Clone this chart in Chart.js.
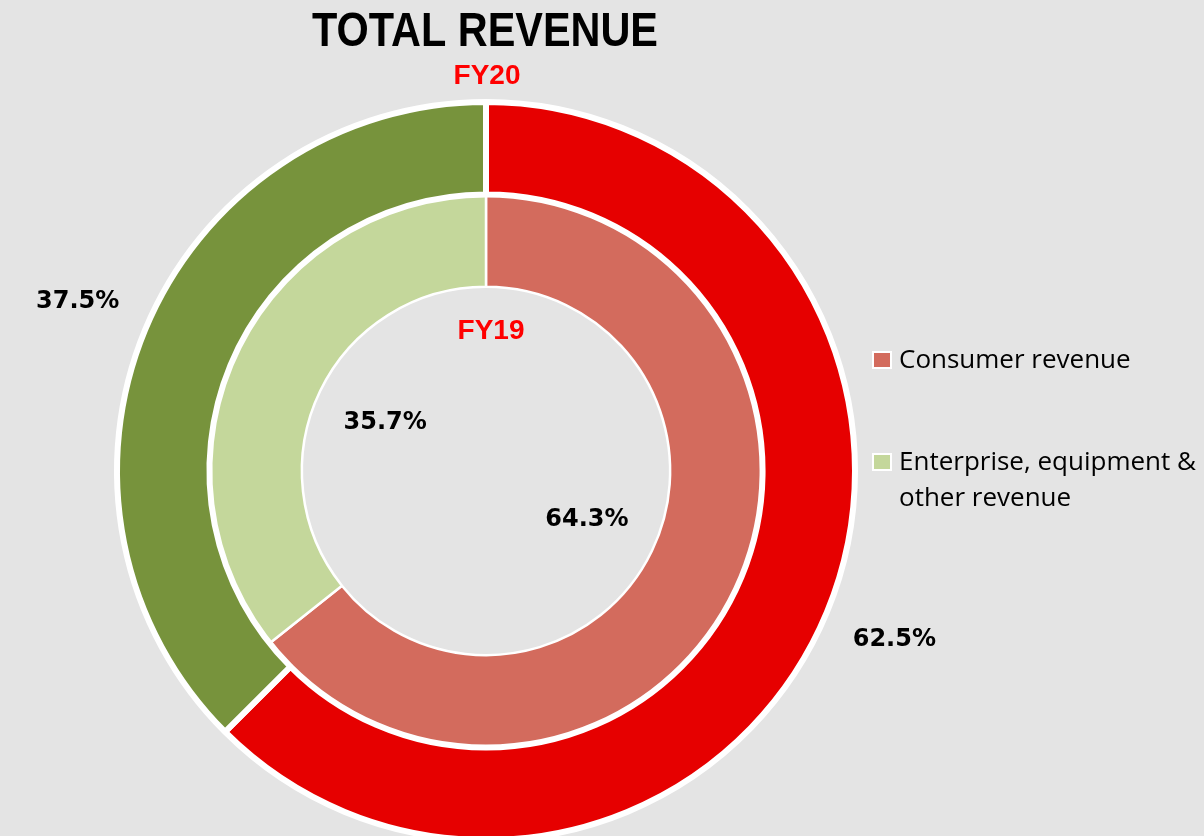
<!DOCTYPE html>
<html>
<head>
<meta charset="utf-8">
<title>Total revenue</title>
<script src="https://cdn.jsdelivr.net/npm/chart.js@4.4.1/dist/chart.umd.min.js"></script>
<style>
  html, body { margin: 0; padding: 0; background: #e4e4e4; overflow: hidden; }
  #wrap { position: relative; width: 1204px; height: 836px; }
</style>
</head>
<body>
<div id="wrap"><canvas id="chart" width="1204" height="836"></canvas></div>
<script>
// Chart data (outer ring = FY20, inner ring = FY19)
const categories = ['Consumer revenue', 'Enterprise, equipment & other revenue'];
const legendLines = [['Consumer revenue'], ['Enterprise, equipment &', 'other revenue']];
const yearLabels = ['FY20', 'FY19'];
const fy20Values = [62.5, 37.5];
const fy19Values = [64.3, 35.7];

const chartTitle = 'TOTAL REVENUE';

// colours per ring
const fy20Colors = ['#e60000', '#77933c'];
const fy19Colors = ['#d36b5d', '#c4d79b'];

// Draws title, ring captions, value labels and the legend
const annotations = {
  id: 'annotations',
  afterDatasetsDraw(chart) {
    const ctx = chart.ctx;
    const area = chart.chartArea;
    const cx = (area.left + area.right) / 2;
    const cy = (area.top + area.bottom) / 2;

    ctx.save();
    ctx.textAlign = 'center';
    ctx.textBaseline = 'middle';

    // title
    ctx.fillStyle = '#000';
    ctx.font = 'bold 48px "Liberation Sans", Arial, sans-serif';
    ctx.fillText(chartTitle, 485, 33, 346);

    // ring captions
    ctx.fillStyle = '#ff0000';
    ctx.font = 'bold 28px "Liberation Sans", Arial, sans-serif';
    ctx.fillText(yearLabels[0], 487, 76);
    ctx.fillText(yearLabels[1], 491, 331);

    // value labels, placed along the middle angle of each slice
    const labelRadius = [442, 112];
    ctx.fillStyle = '#000';
    ctx.font = 'bold 24px "DejaVu Sans", sans-serif';
    chart.data.datasets.forEach((ds, di) => {
      const meta = chart.getDatasetMeta(di);
      meta.data.forEach((arc, i) => {
        const p = arc.getProps(['startAngle', 'endAngle', 'x', 'y'], true);
        const mid = (p.startAngle + p.endAngle) / 2;
        const x = p.x + Math.cos(mid) * labelRadius[di];
        const y = p.y + Math.sin(mid) * labelRadius[di];
        ctx.fillText(ds.data[i].toFixed(1) + '%', x, y);
      });
    });

    // legend (uses the inner ring colours)
    ctx.textAlign = 'left';
    ctx.font = '26px "Open Sans", sans-serif';
    const legendY = [361, 463];
    legendLines.forEach((lines, i) => {
      const y = legendY[i];
      ctx.fillStyle = '#ffffff';
      ctx.fillRect(872, y - 10, 20, 18);
      ctx.fillStyle = fy19Colors[i];
      ctx.fillRect(874, y - 8, 16, 14);
      ctx.fillStyle = '#000';
      lines.forEach((line, j) => {
        ctx.fillText(line, 899, y + j * 36, 300);
      });
    });
    ctx.restore();
  }
};

new Chart(document.getElementById('chart'), {
  type: 'doughnut',
  data: {
    labels: categories,
    datasets: [
      {
        label: yearLabels[0],
        data: fy20Values,
        backgroundColor: fy20Colors,
        borderColor: '#ffffff',
        borderWidth: 6
      },
      {
        label: yearLabels[1],
        data: fy19Values,
        backgroundColor: fy19Colors,
        borderColor: '#ffffff',
        borderWidth: 2.5
      }
    ]
  },
  options: {
    responsive: false,
    animation: false,
    radius: 369,
    cutout: '49.9%',
    layout: { padding: { left: 0, right: 232, top: 106, bottom: 0 } },
    plugins: {
      legend: { display: false },
      title: { display: false },
      tooltip: { enabled: false }
    }
  },
  plugins: [annotations]
});
</script>
</body>
</html>
